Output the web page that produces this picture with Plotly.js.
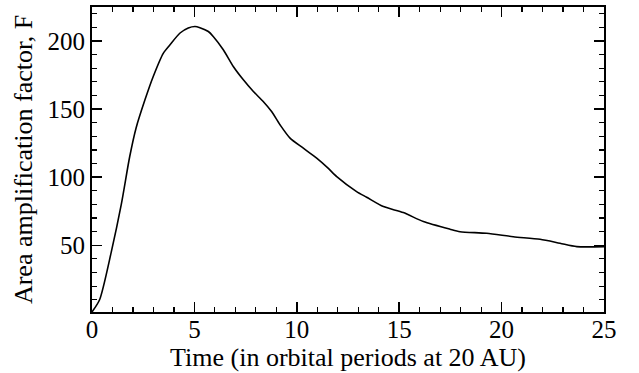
<!DOCTYPE html>
<html>
<head>
<meta charset="utf-8">
<script src="https://cdn.plot.ly/plotly-3.0.1.min.js"></script>
<style>html,body{margin:0;padding:0;background:#fff}#chart{width:639px;height:373px}</style>
</head>
<body>
<div id="chart"></div>
<script>
// Time (orbital periods at 20 AU)
const time = [0, 0.37, 0.94, 1.43, 1.84, 2.15, 2.59, 2.99, 3.48, 3.81, 4.3, 4.7, 5.03, 5.27, 5.68, 5.92, 6.41, 6.9, 7.39, 7.88, 8.36, 8.77, 9.18, 9.67, 10.32, 10.97, 11.5, 11.95, 12.92, 13.41, 14.23, 15.2, 16.18, 17.48, 17.97, 19.27, 20.57, 21.88, 22.85, 23.67, 25];
// Area amplification factor F
const factorF = [1, 10, 45, 80, 115, 136, 157, 174, 191, 197.3, 205.9, 209.6, 210.7, 209.8, 207, 203.4, 193.6, 181.3, 171.5, 162.9, 155.6, 148.2, 138.5, 128.7, 121.3, 114, 107, 100.4, 89.4, 85.3, 78.4, 74, 67.4, 61.8, 60, 58.8, 56.3, 54.4, 51.5, 49, 49];
const xTicks = [0, 5, 10, 15, 20, 25];
const yTicks = [50, 100, 150, 200];

const fam = 'Liberation Serif';
const tickFnt = {family: fam, size: 25, color: '#000'};
const titleFnt = {family: fam, size: 26, color: '#000'};

Plotly.newPlot('chart', [{
  x: time, y: factorF, type: 'scatter', mode: 'lines',
  line: {color: '#000', width: 1.6, shape: 'spline', smoothing: 0.7},
  hoverinfo: 'skip'
}], {
  width: 639, height: 373,
  margin: {l: 92, r: 35, t: 7, b: 61},
  paper_bgcolor: '#fff', plot_bgcolor: '#fff',
  showlegend: false,
  font: tickFnt,
  xaxis: {
    range: [0, 25], tickvals: xTicks, ticktext: xTicks.map(String),
    ticks: 'inside', ticklen: 10, tickwidth: 1.5, tickcolor: '#000',
    minor: {dtick: 1, tick0: 0, ticks: 'inside', ticklen: 5, tickwidth: 1.2, tickcolor: '#000', showgrid: false},
    showline: true, linewidth: 2, linecolor: '#000', mirror: 'allticks',
    showgrid: false, zeroline: false,
    tickfont: tickFnt, ticklabelstandoff: -6,
    title: {text: 'Time (in orbital periods at 20 AU)', font: titleFnt, standoff: 0}
  },
  yaxis: {
    range: [1, 225], tickvals: yTicks, ticktext: yTicks.map(String),
    ticks: 'inside', ticklen: 10, tickwidth: 1.5, tickcolor: '#000',
    minor: {dtick: 10, tick0: 0, ticks: 'inside', ticklen: 5, tickwidth: 1.2, tickcolor: '#000', showgrid: false},
    showline: true, linewidth: 2, linecolor: '#000', mirror: 'allticks',
    showgrid: false, zeroline: false,
    tickfont: tickFnt,
    title: {text: 'Area amplification factor, F', font: titleFnt, standoff: 7}
  }
}, {displayModeBar: false, staticPlot: true});
</script>
</body>
</html>
